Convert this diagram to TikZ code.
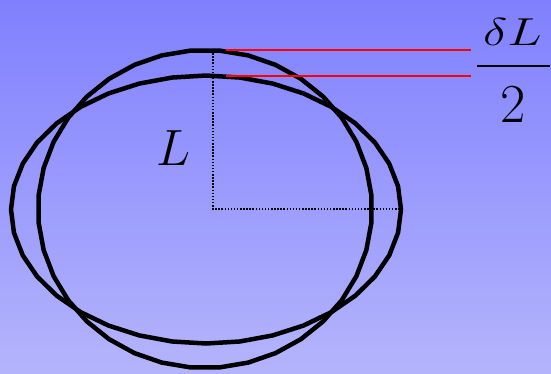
\documentclass[tikz,border=0pt]{standalone}
\usepackage{fix-cm}
\definecolor{bgtop}{RGB}{128,128,255}
\definecolor{bgbot}{RGB}{180,180,252}
\begin{document}
\begin{tikzpicture}[x=1pt,y=-1pt,
  outline/.style={line width=4.5pt, line join=round, draw=black},
  dotline/.style={line width=1.5pt, dash pattern=on 1.5pt off 1.6pt, draw=black},
  redline/.style={line width=2pt, draw=red},
  bigtxt/.style={inner sep=0pt, font=\fontsize{51}{60}\selectfont},
  digtxt/.style={inner sep=0pt, font=\fontsize{55}{62}\selectfont},
  midtxt/.style={inner sep=0pt, font=\fontsize{39}{46}\selectfont}]
\useasboundingbox (0,0) rectangle (551,373);
\shade[top color=bgtop, bottom color=bgbot] (0,0) rectangle (551,373);
% near-circular shape
\draw[outline] plot[samples=37, domain=5:365] ({205+167*cos(\x)}, {209-159*sin(\x)}) -- cycle;
% flattened shape
\draw[outline] plot[samples=37, domain=0:360] ({206+195*cos(\x)}, {209.5-134*sin(\x)}) -- cycle;
% dotted radius lines
\coordinate (ctr) at (213,209);
\coordinate (ctop) at (213,50);
\coordinate (cright) at (399,209);
\draw[dotline] (ctop) -- (ctr) -- (cright);
% red lines
\coordinate (r1a) at (226,50);
\coordinate (r1b) at (471,50);
\coordinate (r2a) at (226,76);
\coordinate (r2b) at (471,76);
\draw[redline] (r1a) -- (r1b);
\draw[redline] (r2a) -- (r2b);
% labels
\node[bigtxt, anchor=base west] (lab) at (156,165) {$L$};
\node[midtxt, anchor=base] (num) at (512.5,45) {\scalebox{1.32}[1]{$\delta L$}};
\node[digtxt, anchor=base] (den) at (513.5,122) {$2$};
\coordinate (fa) at (477,66);
\coordinate (fb) at (550,66);
\draw[line width=2pt] (fa) -- (fb);
\end{tikzpicture}
\end{document}
